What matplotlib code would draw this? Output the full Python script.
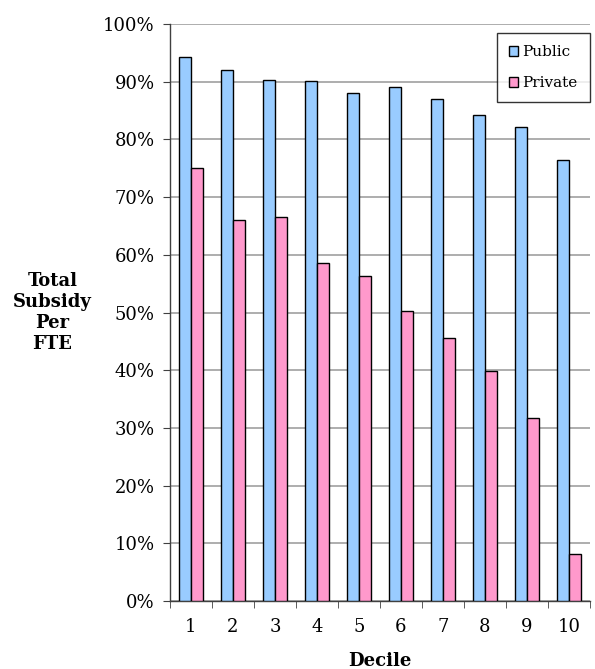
import numpy as np
import matplotlib.pyplot as plt
from matplotlib.ticker import PercentFormatter

# -----------------------------
# Data
# -----------------------------

deciles = ["1", "2", "3", "4", "5", "6", "7", "8", "9", "10"]
public = [94.3, 92.1, 90.3, 90.2, 88.0, 89.0, 87.0, 84.2, 82.1, 76.5]
private = [75.1, 66.0, 66.6, 58.6, 56.4, 50.3, 45.6, 39.8, 31.8, 8.2]

PUBLIC_COLOR = "#99CCFF"
PRIVATE_COLOR = "#FF99CC"
FONT = "DejaVu Serif"

plt.rcParams["font.family"] = FONT

fig = plt.figure(figsize=(5.95, 6.69), dpi=100)
ax = fig.add_axes([0.2857, 0.1016, 0.7059, 0.8625])

x = np.arange(1, len(deciles) + 1)
bar_width = 1 / 3.5

ax.bar(x - bar_width / 2, public, width=bar_width, color=PUBLIC_COLOR,
       edgecolor="black", linewidth=1.0, label="Public", zorder=3)
ax.bar(x + bar_width / 2, private, width=bar_width, color=PRIVATE_COLOR,
       edgecolor="black", linewidth=1.0, label="Private", zorder=3)

# Axes
ax.set_xlim(0.5, 10.5)
ax.set_ylim(0, 100)
ax.set_yticks(np.arange(0, 101, 10))
ax.yaxis.set_major_formatter(PercentFormatter(decimals=0))
ax.grid(axis="y", color="#a0a0a0", linewidth=1.2, zorder=0)

# category labels in the middle, tick marks on the bin edges
ax.set_xticks(x)
ax.set_xticklabels(deciles)
ax.set_xticks(np.arange(0.5, 11, 1), minor=True)
ax.tick_params(axis="x", which="major", length=0, pad=12, labelsize=13)
ax.tick_params(axis="x", which="minor", length=5, direction="out", color="#404040")
ax.tick_params(axis="y", length=5, direction="out", labelsize=13, pad=6, color="#404040")

for side in ("top", "right"):
    ax.spines[side].set_visible(False)
for side in ("left", "bottom"):
    ax.spines[side].set_color("#404040")
    ax.spines[side].set_linewidth(1.0)

ax.set_xlabel("Decile", fontsize=13, fontweight="bold", labelpad=12)
fig.text(0.088, 0.533, "Total\nSubsidy\nPer\nFTE", ha="center", va="center",
         fontsize=13, fontweight="bold", linespacing=1.2)

leg = ax.legend(loc="upper right", bbox_to_anchor=(1.0, 0.984), fontsize=11,
                frameon=True, fancybox=False, edgecolor="black",
                handlelength=0.6, handleheight=0.6, handletextpad=0.3,
                labelspacing=1.1, borderpad=0.8, borderaxespad=0)
leg.get_frame().set_linewidth(1.0)

fig.savefig("out.png", dpi=100)
